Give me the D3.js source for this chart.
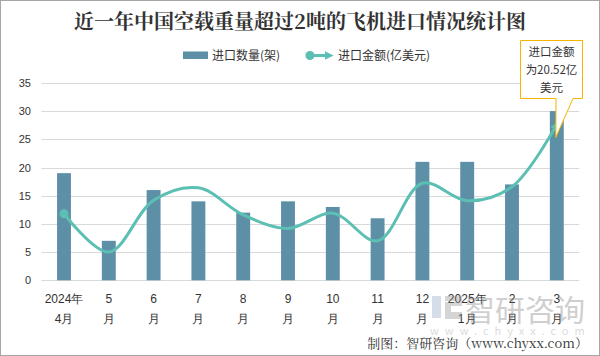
<!DOCTYPE html>
<html><head><meta charset="utf-8">
<script src="https://cdn.jsdelivr.net/npm/d3@7"></script>
<style>
html,body{margin:0;padding:0;background:#fff;}
svg{display:block;font-family:"Noto Sans CJK SC","Noto Sans",sans-serif;}
</style></head>
<body>
<svg id="c" width="600" height="356"></svg>
<script>
const categories = ["2024年\n4月","5\n月","6\n月","7\n月","8\n月","9\n月","10\n月","11\n月","12\n月","2025年\n1月","2\n月","3\n月"];
const quantity = [19, 7, 16, 14, 12, 14, 13, 11, 21, 21, 17, 30];
const amount = [8.77, 3.72, 10.55, 12.18, 8.62, 6.83, 8.84, 5.2, 12.78, 10.48, 12.33, 20.52];
const yTicks = [0, 5, 10, 15, 20, 25, 30, 35];
const titleText = "近一年中国空载重量超过2吨的飞机进口情况统计图";
const legendBar = "进口数量(架)";
const legendLine = "进口金额(亿美元)";
const calloutLines = ["进口金额", "为20.52亿", "美元"];
const footerText = "制图：智研咨询（www.chyxx.com）";

const svg = d3.select("#c");
const barColor = "#5d90a6", lineColor = "#5cbfb4";

svg.append("rect").attr("x",0.5).attr("y",0.5).attr("width",599).attr("height",355)
  .attr("fill","#fff").attr("stroke","#a6a6a6");

const x = d3.scaleBand().domain(categories).range([41.6, 579.2]).paddingInner(0.69).paddingOuter(0.345);
const y = d3.scaleLinear().domain([0, 35]).range([280.3, 82.9]);
const y2 = d3.scaleLinear().domain([0, 26]).range([280.3, 82.9]);

// grid
svg.append("g").selectAll("line").data(yTicks).join("line")
  .attr("x1", 41.6).attr("x2", 579.2)
  .attr("y1", d => Math.round(y(d)) + 0.5).attr("y2", d => Math.round(y(d)) + 0.5)
  .attr("stroke", "#d9d9d9").attr("stroke-width", 1);

// y axis labels
const yAxis = d3.axisLeft(y).tickValues(yTicks).tickSize(0).tickPadding(0);
const yg = svg.append("g").attr("transform","translate(31,0)").call(yAxis);
yg.select(".domain").remove();
yg.selectAll("text").attr("fill","#333").style("font-size","11px");

// bars
svg.append("g").selectAll("rect").data(quantity).join("rect")
  .attr("x", (d,i) => x(categories[i]))
  .attr("width", x.bandwidth())
  .attr("y", d => y(d)).attr("height", d => y(0) - y(d))
  .attr("fill", barColor);

// x axis labels
const xAxis = d3.axisBottom(x).tickSize(0).tickFormat("");
const xg = svg.append("g").attr("transform", `translate(0,${y(0)})`).call(xAxis);
xg.select(".domain").remove();
xg.selectAll(".tick").each(function(d){
  const parts = d.split("\n");
  const t = d3.select(this).append("text").attr("fill","#333").style("font-size","12px").attr("text-anchor","middle");
  parts.forEach((p,k) => t.append("tspan").attr("x",0).attr("y", 23 + k*20).text(p));
});

// defs for arrow
const defs = svg.append("defs");
defs.append("marker").attr("id","arr").attr("viewBox","0 0 10 10").attr("refX",6).attr("refY",5)
  .attr("markerWidth",9).attr("markerHeight",9).attr("markerUnits","userSpaceOnUse").attr("orient","auto")
  .append("path").attr("d","M0,0 L10,5 L0,10 z").attr("fill",lineColor);

// line
const line = d3.line().x((d,i) => x(categories[i]) + x.bandwidth()/2).y(d => y2(d)).curve(d3.curveCatmullRom.alpha(0.5));
svg.append("path").datum(amount).attr("d", line).attr("fill","none")
  .attr("stroke", lineColor).attr("stroke-width", 3).attr("marker-end","url(#arr)");
svg.append("circle").attr("cx", x(categories[0]) + x.bandwidth()/2).attr("cy", y2(amount[0])).attr("r", 4.5).attr("fill", lineColor);

// title
svg.append("text").attr("x", 300).attr("y", 29).attr("text-anchor","middle")
  .style("font-size","20px").style("font-weight","bold").attr("fill","#333")
  .style("font-family","'Noto Serif CJK SC','Noto Sans CJK SC',serif").text(titleText);

// legend
const lg = svg.append("g");
lg.append("rect").attr("x",183).attr("y",51.5).attr("width",25).attr("height",7.5).attr("fill",barColor);
lg.append("text").attr("x",212).attr("y",59.5).style("font-size","12px").attr("fill","#333").text(legendBar);
lg.append("line").attr("x1",310).attr("x2",330).attr("y1",55.5).attr("y2",55.5).attr("stroke",lineColor).attr("stroke-width",3).attr("marker-end","url(#arr)");
lg.append("circle").attr("cx",310).attr("cy",55.5).attr("r",4.5).attr("fill",lineColor);
lg.append("text").attr("x",338).attr("y",59.5).style("font-size","12px").attr("fill","#333").text(legendLine);

// callout
const tipX = x(categories[11]) + x.bandwidth()/2 - 1, tipY = y2(amount[11]) + 13;
svg.append("path")
  .attr("d", `M520.5,40.5 H582.5 V98.5 H573 L${tipX},${tipY} L556,98.5 H520.5 Z`)
  .attr("fill","#fff").attr("stroke","#f5b400").attr("stroke-width",1);
const ct = svg.append("text").attr("text-anchor","middle").style("font-size","11.5px").attr("fill","#333");
calloutLines.forEach((s,k) => ct.append("tspan").attr("x",551.5).attr("y",56 + k*18).text(s));

// watermark
const wm = svg.append("g").attr("opacity",0.35);
wm.append("rect").attr("x",432).attr("y",296).attr("width",9).attr("height",22).attr("fill","#8aa0c0");
wm.append("path").attr("d","M445,296 H462 V306 H451 V312 H462 V319 H445 V302 H456 V301 H445 Z").attr("fill","#8a8a8a");
wm.append("text").attr("x",465).attr("y",321).style("font-size","30px").attr("fill","#777").text("智研咨询");
wm.append("text").attr("x",430).attr("y",335).style("font-size","11px").style("letter-spacing","6px").attr("fill","#999").text("www.chyxx.com");

// footer
svg.append("text").attr("x",588).attr("y",348).attr("text-anchor","end").style("font-size","13px").attr("fill","#333")
  .style("font-family","'Noto Serif CJK SC','Noto Sans CJK SC',serif").text(footerText);
</script>
</body></html>
